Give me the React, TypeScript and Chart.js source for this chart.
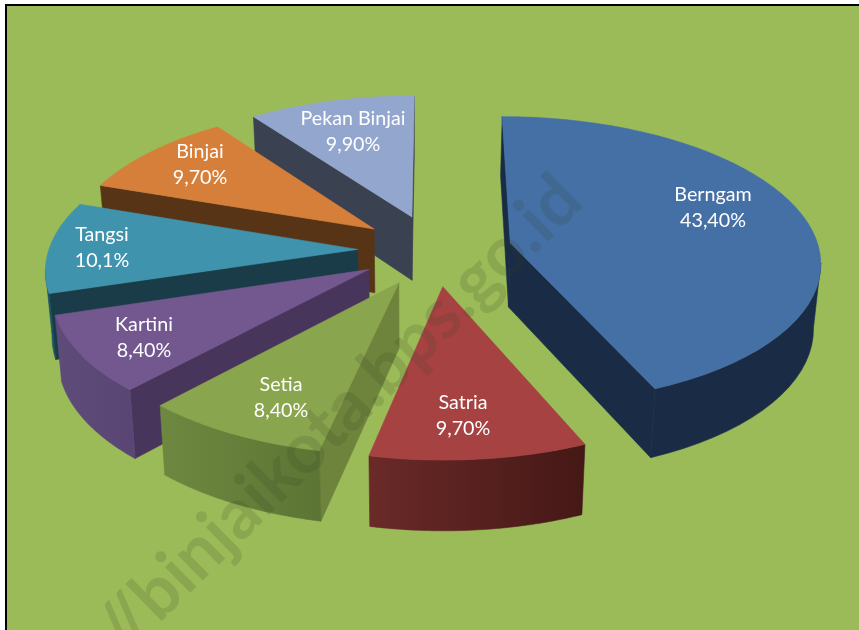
import React, { useEffect, useRef } from "react";
import { Chart, registerables } from "chart.js";

Chart.register(...registerables);

const categories = ["Berngam", "Satria", "Setia", "Kartini", "Tangsi", "Binjai", "Pekan Binjai"];
const shares = [43.4, 9.7, 8.4, 8.4, 10.1, 9.7, 9.9];
const shareLabels = ["43,40%", "9,70%", "8,40%", "8,40%", "10,1%", "9,70%", "9,90%"];
const topColors = ["#4570A6", "#A64342", "#89A54E", "#73578F", "#4093AD", "#D67F3A", "#93A7CE"];
const wallColors = ["#1A2C45", "#451816", "#6E833C", "#47355C", "#1A3C48", "#583417", "#3A4151"];
const rimFrom = ["#1A2C45", "#6A2A28", "#6E8840", "#5F4B79", "#1A5064", "#583417", "#3A4151"];
const rimTo = ["#1A2C45", "#451816", "#5D7534", "#5A4674", "#1A5064", "#583417", "#3A4151"];
const drawOrder = [6, 5, 4, 3, 2, 1, 0];
const labelCenters = [[713, 208], [463, 416], [281, 398], [144, 338], [102, 248], [200, 165], [353, 132]];

const CX = 435, CY = 250, RX = 309, RY = 143, K = 0.12;
const EXPLODE = 70;

const project = (u: number, v: number) => {
  const w = 1 - K * v;
  return { x: CX + (RX * u) / w, y: CY + (RY * v) / w, v };
};
const drop = (p: { x: number; y: number; v: number }) => ({
  x: 413 + (p.x - 413) * 0.982,
  y: p.y + 64.5 + 5 * p.v,
});

const pie3d = {
  id: "pie3d",
  beforeDraw(chart: any) {
    const { ctx, width, height } = chart;
    ctx.save();
    ctx.fillStyle = "#9BBB59";
    ctx.fillRect(5, 4, width, height);
    ctx.strokeStyle = "#000";
    ctx.lineWidth = 2;
    ctx.beginPath();
    ctx.moveTo(6, height + 2);
    ctx.lineTo(6, 5);
    ctx.lineTo(width + 2, 5);
    ctx.stroke();
    ctx.restore();
  },
  beforeDatasetDraw(chart: any) {
    const { ctx } = chart;
    const arcs = chart.getDatasetMeta(0).data;
    const poly = (pts: { x: number; y: number }[], fill: any) => {
      ctx.fillStyle = fill;
      ctx.strokeStyle = fill;
      ctx.lineWidth = 0.6;
      ctx.beginPath();
      pts.forEach((p, i) => (i ? ctx.lineTo(p.x, p.y) : ctx.moveTo(p.x, p.y)));
      ctx.closePath();
      ctx.fill();
      ctx.stroke();
    };
    ctx.save();
    drawOrder.forEach((i) => {
      const a = arcs[i];
      const mid = (a.startAngle + a.endAngle) / 2;
      const e = a.options.offset / a.outerRadius;
      const ou = e * Math.cos(mid), ov = e * Math.sin(mid);
      const apex = project(ou, ov);
      const rim: ReturnType<typeof project>[] = [];
      const N = 48;
      for (let s = 0; s <= N; s++) {
        const t = a.startAngle + ((a.endAngle - a.startAngle) * s) / N;
        rim.push(project(ou + Math.cos(t), ov + Math.sin(t)));
      }
      const first = rim[0], last = rim[N];
      if (first.x < apex.x) poly([apex, first, drop(first), drop(apex)], wallColors[i]);
      if (apex.x < last.x) poly([last, apex, drop(apex), drop(last)], wallColors[i]);
      const vis: typeof rim = [];
      for (let s = 0; s < N; s++) {
        if (rim[s + 1].x < rim[s].x) {
          if (!vis.length) vis.push(rim[s]);
          vis.push(rim[s + 1]);
        }
      }
      if (vis.length > 1) {
        const xs = vis.map((p) => p.x);
        const g = ctx.createLinearGradient(Math.min(...xs), 0, Math.max(...xs), 0);
        g.addColorStop(0, rimFrom[i]);
        g.addColorStop(1, rimTo[i]);
        poly([...vis, ...vis.map(drop).reverse()], g);
      }
      poly([apex, ...rim], a.options.backgroundColor);
    });
    ctx.restore();
    return false;
  },
  afterDatasetsDraw(chart: any) {
    const { ctx } = chart;
    ctx.save();
    ctx.translate(570, 188);
    ctx.rotate((-44.5 * Math.PI) / 180);
    ctx.font = "bold 70px Lato";
    ctx.textAlign = "right";
    ctx.textBaseline = "middle";
    ctx.fillStyle = "rgba(50,60,40,0.16)";
    ctx.fillText("http://binjaikota.bps.go.id", 0, 0);
    ctx.restore();

    ctx.save();
    ctx.font = "19.7px Lato";
    ctx.fillStyle = "#fff";
    ctx.textAlign = "center";
    ctx.textBaseline = "middle";
    categories.forEach((c, i) => {
      const [x, y] = labelCenters[i];
      ctx.fillText(c, x, y - 13);
      ctx.fillText(shareLabels[i], x, y + 13);
    });
    ctx.restore();
  },
};

export default function App() {
  const ref = useRef<HTMLCanvasElement>(null);
  useEffect(() => {
    const chart = new Chart(ref.current!, {
      type: "pie",
      data: {
        labels: categories,
        datasets: [{ data: shares, backgroundColor: topColors, borderWidth: 0, offset: EXPLODE }],
      },
      options: {
        responsive: false,
        animation: false,
        plugins: { legend: { display: false }, tooltip: { enabled: false } },
      },
      plugins: [pie3d],
    } as any);
    return () => chart.destroy();
  }, []);
  return (
    <div style={{ position: "fixed", left: 0, top: 0, width: 859, height: 630 }}>
      <canvas ref={ref} width={859} height={630} style={{ display: "block" }} />
    </div>
  );
}
